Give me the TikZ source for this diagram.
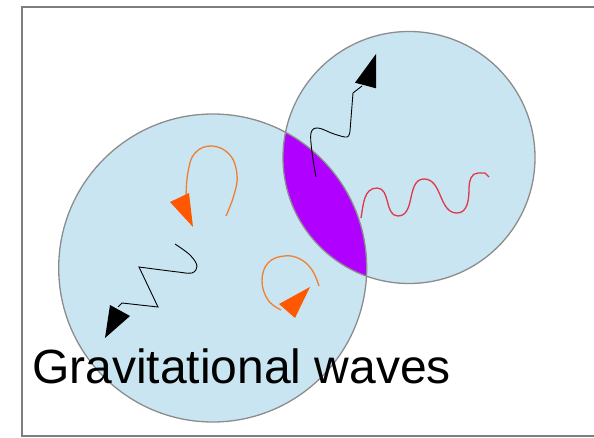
\documentclass[tikz,border=0pt]{standalone}
\usepackage{fontspec}
\setmainfont{Liberation Sans}
\definecolor{ballblue}{RGB}{201,229,242}
\definecolor{rimgray}{RGB}{140,140,140}
\definecolor{lensviolet}{RGB}{176,0,255}
\definecolor{loopline}{RGB}{240,128,48}
\definecolor{loophead}{RGB}{255,88,0}
\definecolor{wavered}{RGB}{224,56,72}
\begin{document}
\begin{tikzpicture}[x=1pt, y=-1pt,
        ball/.style={fill=ballblue},
        rim/.style={draw=rimgray, line width=1.3pt},
        wiggle/.style={black, line width=0.9pt},
        loopy/.style={loopline, line width=1.3pt},
        headblack/.style={fill=black},
        headorange/.style={fill=loophead}]
        \useasboundingbox (0,0) rectangle (594,438);

        % frame, open on the right
        \draw[rimgray!90!black, line width=1.8pt] (594,7) -- (22,7) -- (22,436) -- (594,436);

        \coordinate (left) at (212.7,268);
        \coordinate (right) at (409,157.5);

        \fill[ball] (left) circle[radius=154];
        \fill[ball] (right) circle[radius=126];
        \begin{scope}
            \clip (left) circle[radius=154];
            \fill[lensviolet] (right) circle[radius=126];
        \end{scope}
        \draw[rim] (left) circle[radius=154];
        \draw[rim] (right) circle[radius=126];

        % escaping wave, right ball
        \draw[wiggle] plot[smooth, tension=0.6] coordinates {(316,177) (312,152) (311,133) (318,128) (334,134) (347,137) (350,131)}
            -- (353,93) -- (362,86);
        \fill[headblack] (355,82.7) -- (376,88.3) -- (376,54) -- cycle;

        % red wave
        \draw[wavered, line width=1.3pt] (361,218) to[out=80,in=180] (377,188) to[out=0,in=180] (398,216)
            to[out=0,in=180] (424,179) to[out=0,in=180] (457,213) to[out=0,in=-90] (469,188)
            to[out=90,in=180] (478,173) -- (485,173) -- (489,177);

        % upper orbit
        \draw[loopy] plot[smooth, tension=0.7] coordinates {(226,216) (234,195) (237,175) (230,155) (212,146) (195,153) (188,172) (186,196)};
        \fill[headorange] (170,202) -- (189,193) -- (193,227) -- cycle;

        % lower orbit
        \draw[loopy] plot[smooth, tension=0.7] coordinates {(319,286) (312,270) (300,259) (284,256) (268,263) (262,281) (268,300) (281,310)};
        \fill[headorange] (279,304) -- (295,318) -- (310,287) -- cycle;

        % zigzag wave, left ball
        \draw[wiggle] plot[smooth, tension=0.6] coordinates {(175,244) (190,255) (197,266) (192,273) (178,272) (139,267)}
            -- (158,307) -- (122,303) -- (118,307);
        \fill[headblack] (110,305) -- (130,316) -- (105,338) -- cycle;

        \node[anchor=base west, inner sep=0pt, font=\fontsize{48}{50}\selectfont] (caption) at (32,383) {Gravitational waves};
\end{tikzpicture}
\end{document}
